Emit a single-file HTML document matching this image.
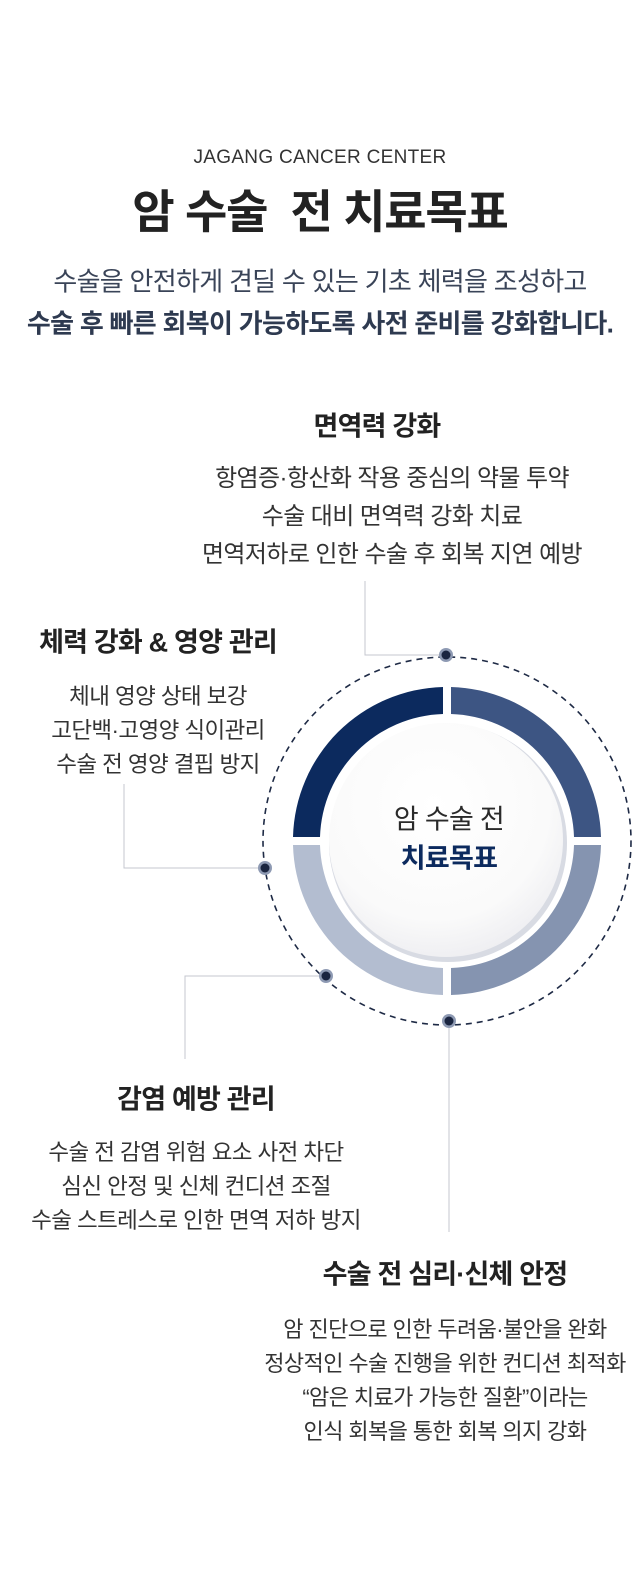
<!DOCTYPE html>
<html><head><meta charset="utf-8"><style>
*{margin:0;padding:0;box-sizing:border-box}
body{width:640px;height:1596px;background:#fff;position:relative;overflow:hidden;font-family:"Liberation Sans","Noto Sans CJK KR",sans-serif;color:#333}
.c{position:absolute;transform:translate(-50%,-50%);white-space:nowrap;text-align:center}
.h{font-size:27px;font-weight:700;color:#222;letter-spacing:-0.8px}
.b{font-size:22.5px;line-height:38px;color:#333;letter-spacing:-0.6px}
</style></head><body>
<div class="c" style="left:320px;top:158px;font-size:19px;letter-spacing:0.3px;color:#333">JAGANG CANCER CENTER</div>
<div class="c" style="left:320px;top:209px;font-size:46px;font-weight:700;color:#222;letter-spacing:-1.2px">암 수술&nbsp; 전 치료목표</div>
<div class="c" style="left:320px;top:280px;font-size:26px;color:#3a4458;letter-spacing:-0.7px">수술을 안전하게 견딜 수 있는 기초 체력을 조성하고</div>
<div class="c" style="left:320px;top:322px;font-size:26px;font-weight:700;color:#2e3a50;letter-spacing:-0.7px">수술 후 빠른 회복이 가능하도록 사전 준비를 강화합니다.</div>

<div class="c h" style="left:377px;top:424px">면역력 강화</div>
<div class="c b" style="left:392px;top:517px;font-size:24px">항염증·항산화 작용 중심의 약물 투약<br>수술 대비 면역력 강화 치료<br>면역저하로 인한 수술 후 회복 지연 예방</div>

<div class="c h" style="left:158px;top:640px">체력 강화 &amp; 영양 관리</div>
<div class="c b" style="left:158px;top:731px;line-height:34px">체내 영양 상태 보강<br>고단백·고영양 식이관리<br>수술 전 영양 결핍 방지</div>

<div class="c h" style="left:196px;top:1097px">감염 예방 관리</div>
<div class="c b" style="left:196px;top:1187px;line-height:34px">수술 전 감염 위험 요소 사전 차단<br>심신 안정 및 신체 컨디션 조절<br>수술 스트레스로 인한 면역 저하 방지</div>

<div class="c h" style="left:445px;top:1272px">수술 전 심리·신체 안정</div>
<div class="c b" style="left:445px;top:1381px;line-height:34px;font-size:22px">암 진단으로 인한 두려움·불안을 완화<br>정상적인 수술 진행을 위한 컨디션 최적화<br>“암은 치료가 가능한 질환”이라는<br>인식 회복을 통한 회복 의지 강화</div>

<svg width="640" height="1596" style="position:absolute;left:0;top:0" xmlns="http://www.w3.org/2000/svg">
<defs>
<radialGradient id="g" cx="0.45" cy="0.35" r="0.7">
<stop offset="0" stop-color="#ffffff"/><stop offset="0.7" stop-color="#fafafa"/><stop offset="1" stop-color="#ececf0"/>
</radialGradient>
</defs>
<g fill="none" stroke="#c4c7cf" stroke-width="1">
<polyline points="365,581 365,655 446,655"/>
<polyline points="124,784 124,868 265,868"/>
<polyline points="185,1059 185,976 326,976"/>
<polyline points="449,1021 449,1232"/>
</g>
<circle cx="447" cy="841" r="184" fill="none" stroke="#1e2a45" stroke-width="1.6" stroke-dasharray="6,5"/>
<path d="M443,687 A154,154 0 0 0 293,837 L320,837 A127,127 0 0 1 443,714 Z" fill="#0c2a5e"/>
<path d="M451,687 A154,154 0 0 1 601,837 L574,837 A127,127 0 0 0 451,714 Z" fill="#3d5583"/>
<path d="M601,845 A154,154 0 0 1 451,995 L451,968 A127,127 0 0 0 574,845 Z" fill="#8594b0"/>
<path d="M293,845 A154,154 0 0 0 443,995 L443,968 A127,127 0 0 1 320,845 Z" fill="#b3bdd0"/>
<circle cx="448" cy="843" r="119" fill="#d8dbe3"/>
<circle cx="446" cy="840" r="117" fill="url(#g)"/>
<g>
<circle cx="446" cy="655" r="7" fill="#8e9ab3"/><circle cx="446" cy="655" r="4.5" fill="#1a2540"/>
<circle cx="265" cy="868" r="7" fill="#8e9ab3"/><circle cx="265" cy="868" r="4.5" fill="#1a2540"/>
<circle cx="326" cy="976" r="7" fill="#8e9ab3"/><circle cx="326" cy="976" r="4.5" fill="#1a2540"/>
<circle cx="449" cy="1021" r="7" fill="#8e9ab3"/><circle cx="449" cy="1021" r="4.5" fill="#1a2540"/>
</g>
</svg>
<div class="c" style="left:449px;top:817px;font-size:27px;color:#2a2a2a;letter-spacing:-0.7px">암 수술 전</div>
<div class="c" style="left:449px;top:856px;font-size:27px;font-weight:700;color:#0c2a5e;letter-spacing:-0.7px">치료목표</div>
</body></html>
